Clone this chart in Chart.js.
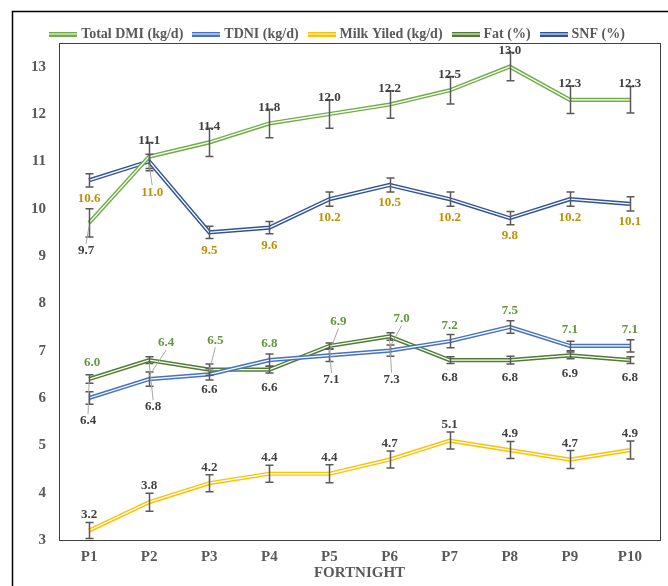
<!DOCTYPE html>
<html>
<head>
<meta charset="utf-8">
<script src="https://cdn.jsdelivr.net/npm/chart.js@4.4.1/dist/chart.umd.min.js"></script>
<style>
  html, body { margin: 0; padding: 0; background: #ffffff; }
  #wrap { width: 668px; height: 586px; }
</style>
</head>
<body>
<div id="wrap"><canvas id="chart" width="668" height="586"></canvas></div>
<script>
// Fortnightly means with their error margins
const fortnights = ['P1', 'P2', 'P3', 'P4', 'P5', 'P6', 'P7', 'P8', 'P9', 'P10'];

const totalDMI   = [9.7, 11.1, 11.4, 11.8, 12.0, 12.2, 12.5, 13.0, 12.3, 12.3];
const totalDMIse = [0.30, 0.30, 0.30, 0.30, 0.30, 0.29, 0.29, 0.30, 0.29, 0.28];

const tdni   = [6.0, 6.4, 6.5, 6.8, 6.9, 7.0, 7.2, 7.5, 7.1, 7.1];
const tdniSe = [0.13, 0.15, 0.12, 0.13, 0.13, 0.12, 0.14, 0.13, 0.10, 0.13];

const milkYield   = [3.2, 3.8, 4.2, 4.4, 4.4, 4.7, 5.1, 4.9, 4.7, 4.9];
const milkYieldSe = [0.17, 0.19, 0.18, 0.18, 0.19, 0.18, 0.18, 0.18, 0.19, 0.19];

const fat   = [6.4, 6.8, 6.6, 6.6, 7.1, 7.3, 6.8, 6.8, 6.9, 6.8];
const fatSe = [0.09, 0.07, 0.12, 0.07, 0.06, 0.08, 0.07, 0.08, 0.07, 0.07];

const snf   = [10.6, 11.0, 9.5, 9.6, 10.2, 10.5, 10.2, 9.8, 10.2, 10.1];
const snfSe = [0.14, 0.15, 0.13, 0.13, 0.15, 0.15, 0.15, 0.14, 0.15, 0.15];

const seriesNames = ['Total DMI (kg/d)', 'TDNI (kg/d)', 'Milk Yiled (kg/d)', 'Fat (%)', 'SNF (%)'];
const yTickValues = [3, 4, 5, 6, 7, 8, 9, 10, 11, 12, 13];

// Appearance
const FONT = 'Liberation Serif, Times New Roman, serif';
const seriesColors = ['#70AD47', '#4472C4', '#FFC000', '#4F7D30', '#2F5597'];

// Value label placement: base offset per series and per-point nudges [dx, dy, leader]
const labelBase = [
  { color: '#404040', dy: -16 },
  { color: '#62993C', dy: -16 },
  { color: '#404040', dy: -16 },
  { color: '#404040', dy: 18 },
  { color: '#BF9000', dy: 18 }
];
const labelNudges = [
  { 0: [-3, 28, true] },
  { 0: [3, -35, false], 1: [17, -36, true], 2: [6, -34, true], 4: [9, -34, true], 5: [12, -32, true] },
  {},
  { 0: [-1, 42, true], 1: [4, 47, true], 2: [0, 20, false], 4: [2, 34, true], 5: [2, 43, true] },
  { 1: [3, 31, true] }
];

function legendGlyph(color) {
  const c = document.createElement('canvas');
  c.width = 28; c.height = 5;
  const g = c.getContext('2d');
  g.fillStyle = color;
  g.fillRect(0, 0, 28, 5);
  g.fillStyle = '#ffffff';
  g.fillRect(0, 2, 28, 1);
  return c;
}
const glyphs = seriesColors.map(legendGlyph);

const seriesData = [totalDMI, tdni, milkYield, fat, snf];
const seriesErr = [totalDMIse, tdniSe, milkYieldSe, fatSe, snfSe];

const datasets = seriesNames.map((name, i) => ({
  label: name,
  data: seriesData[i],
  errors: seriesErr[i],
  borderColor: seriesColors[i],
  backgroundColor: seriesColors[i],
  borderWidth: 4.2,
  borderJoinStyle: 'miter',
  pointRadius: 0,
  pointHoverRadius: 0,
  tension: 0,
  fill: false
}));

// White core stroke turns every series line into a double line
const doubleLine = {
  id: 'doubleLine',
  afterDatasetDraw(chart, args) {
    const pts = args.meta.data;
    if (!pts.length) return;
    const ctx = chart.ctx;
    ctx.save();
    ctx.strokeStyle = '#ffffff';
    ctx.lineWidth = 1.3;
    ctx.lineJoin = 'miter';
    ctx.beginPath();
    pts.forEach((p, k) => (k ? ctx.lineTo(p.x, p.y) : ctx.moveTo(p.x, p.y)));
    ctx.stroke();
    ctx.restore();
  }
};

const errorBars = {
  id: 'errorBars',
  afterDatasetsDraw(chart) {
    const ctx = chart.ctx;
    const ys = chart.scales.y;
    ctx.save();
    ctx.strokeStyle = '#595959';
    ctx.lineWidth = 1.5;
    chart.data.datasets.forEach((ds, i) => {
      const meta = chart.getDatasetMeta(i);
      meta.data.forEach((p, k) => {
        const v = ds.data[k], e = ds.errors[k];
        const top = ys.getPixelForValue(v + e);
        const bot = Math.min(ys.getPixelForValue(v - e), chart.chartArea.bottom);
        const x = Math.round(p.x) + 0.5;
        ctx.beginPath();
        ctx.moveTo(x, top); ctx.lineTo(x, bot);
        ctx.moveTo(x - 4, top); ctx.lineTo(x + 4, top);
        if (ys.getPixelForValue(v - e) <= chart.chartArea.bottom) {
          ctx.moveTo(x - 4, bot); ctx.lineTo(x + 4, bot);
        }
        ctx.stroke();
      });
    });
    ctx.restore();
  }
};

const valueLabels = {
  id: 'valueLabels',
  afterDatasetsDraw(chart) {
    const ctx = chart.ctx;
    ctx.save();
    ctx.font = 'bold 13px ' + FONT;
    ctx.textAlign = 'center';
    ctx.textBaseline = 'middle';
    chart.data.datasets.forEach((ds, i) => {
      const meta = chart.getDatasetMeta(i);
      meta.data.forEach((p, k) => {
        const n = labelNudges[i][k];
        const dx = n ? n[0] : 0;
        const dy = n ? n[1] : labelBase[i].dy;
        const lx = p.x + dx, ly = p.y + dy;
        if (n && n[2]) {
          ctx.strokeStyle = '#A6A6A6';
          ctx.lineWidth = 1;
          ctx.beginPath();
          const s = dy > 0 ? -7 : 7;
          ctx.moveTo(lx, ly + s);
          ctx.lineTo(p.x, p.y + (dy > 0 ? 3 : -3));
          ctx.stroke();
        }
        ctx.fillStyle = labelBase[i].color;
        ctx.fillText(ds.data[k].toFixed(1), lx, ly);
      });
    });
    ctx.restore();
  }
};

const frames = {
  id: 'frames',
  afterDraw(chart) {
    const ctx = chart.ctx;
    const a = chart.chartArea;
    ctx.save();
    ctx.strokeStyle = '#404040';
    ctx.lineWidth = 1;
    ctx.strokeRect(Math.round(a.left) + 0.5, Math.round(a.top) + 0.5,
                   Math.round(a.right - a.left), Math.round(a.bottom - a.top));
    ctx.strokeStyle = '#000000';
    ctx.lineWidth = 1.5;
    ctx.strokeRect(12.5, 11.5, 700, 620);
    ctx.restore();
  }
};

const legendHeight = {
  id: 'legendHeight',
  beforeInit(chart) {
    const lg = chart.legend;
    if (!lg || lg._fixedFit) return;
    const fit = lg.fit;
    lg.fit = function () { fit.call(this); this.height = 28; };
    lg._fixedFit = true;
  }
};

new Chart(document.getElementById('chart'), {
  type: 'line',
  data: { labels: fortnights, datasets },
  plugins: [legendHeight, doubleLine, errorBars, valueLabels, frames],
  options: {
    responsive: false,
    devicePixelRatio: 1,
    animation: false,
    events: [],
    layout: { padding: { top: 15, left: 17, right: 8, bottom: 0 } },
    plugins: {
      tooltip: { enabled: false },
      legend: {
        position: 'top',
        labels: {
          usePointStyle: true,
          pointStyleWidth: 22,
          boxHeight: 5,
          padding: 12,
          color: '#595959',
          font: { family: FONT, size: 14, weight: 'bold' },
          generateLabels(chart) {
            const items = Chart.defaults.plugins.legend.labels.generateLabels(chart);
            items.forEach((it, i) => { it.pointStyle = glyphs[i]; });
            return items;
          }
        }
      }
    },
    scales: {
      x: {
        type: 'category',
        offset: true,
        grid: { display: false, drawTicks: false },
        border: { display: false },
        ticks: { color: '#595959', padding: 8, font: { family: FONT, size: 15, weight: 'bold' } },
        title: {
          display: true, text: 'FORTNIGHT', color: '#595959',
          font: { family: FONT, size: 15, weight: 'bold' },
          padding: { top: 0, bottom: 4 }
        },
        afterFit(scale) { scale.height = 46; }
      },
      y: {
        min: 3,
        max: 13.5,
        grid: { display: false, drawTicks: false },
        border: { display: false },
        ticks: {
          stepSize: 1, padding: 13, color: '#595959',
          font: { family: FONT, size: 15, weight: 'bold' }
        },
        afterBuildTicks(scale) { scale.ticks = yTickValues.map(v => ({ value: v })); },
        afterFit(scale) { scale.width = 42; }
      }
    }
  }
});
</script>
</body>
</html>
